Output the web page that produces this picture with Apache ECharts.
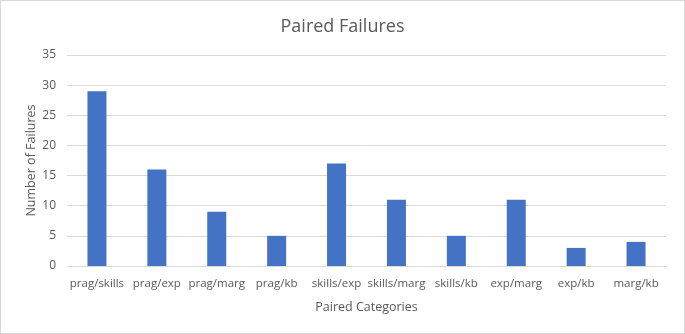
<!DOCTYPE html>
<html>
<head>
<meta charset="utf-8">
<script src="https://cdn.jsdelivr.net/npm/echarts@6/dist/echarts.min.js"></script>
<style>
	html, body { margin:0; padding:0; background:#fff; }
	#chart { width:685px; height:334px; box-sizing:border-box; border:1px solid #d9d9d9; }
</style>
</head>
<body>
<div id="chart"></div>
<script>
	// values
	let categories = ['prag/skills', 'prag/exp', 'prag/marg', 'prag/kb', 'skills/exp', 'skills/marg', 'skills/kb', 'exp/marg', 'exp/kb', 'marg/kb'];
	let failures = [29, 16, 9, 5, 17, 11, 5, 11, 3, 4];
	let yTicks = [0, 5, 10, 15, 20, 25, 30, 35];

	let font = 'Open Sans';
	let grey = '#595959';

	var option = {
		animation: false,
		title: {
			text: 'Paired Failures',
			left: 'center',
			top: 12,
			textStyle: { fontFamily: font, fontSize: 18, fontWeight: 'normal', color: grey }
		},
		grid: { left: 66, right: 18, top: 54, bottom: 67 },
		xAxis: {
			type: 'category',
			data: categories,
			name: 'Paired Categories',
			nameLocation: 'middle',
			nameGap: 35,
			nameMoveOverlap: false,
			nameTextStyle: { fontFamily: font, fontSize: 12.5, color: grey },
			axisTick: { show: false },
			axisLine: { lineStyle: { color: '#d9d9d9' } },
			axisLabel: { fontFamily: font, fontSize: 11.5, color: grey, margin: 12, interval: 0 }
		},
		yAxis: {
			type: 'value',
			min: yTicks[0],
			max: yTicks[yTicks.length - 1],
			interval: 5,
			name: 'Number of Failures',
			nameLocation: 'middle',
			nameGap: 29,
			nameMoveOverlap: false,
			nameTextStyle: { fontFamily: font, fontSize: 12.5, color: grey },
			axisLine: { show: false },
			axisTick: { show: false },
			splitLine: { lineStyle: { color: '#d9d9d9' } },
			axisLabel: { fontFamily: font, fontSize: 12, color: grey, margin: 11 }
		},
		series: [{
			type: 'bar',
			data: failures,
			barWidth: 19,
			itemStyle: { color: '#4472c4' }
		}]
	};

	var myChart = echarts.init(document.getElementById('chart'));
	myChart.setOption(option);
</script>
</body>
</html>
